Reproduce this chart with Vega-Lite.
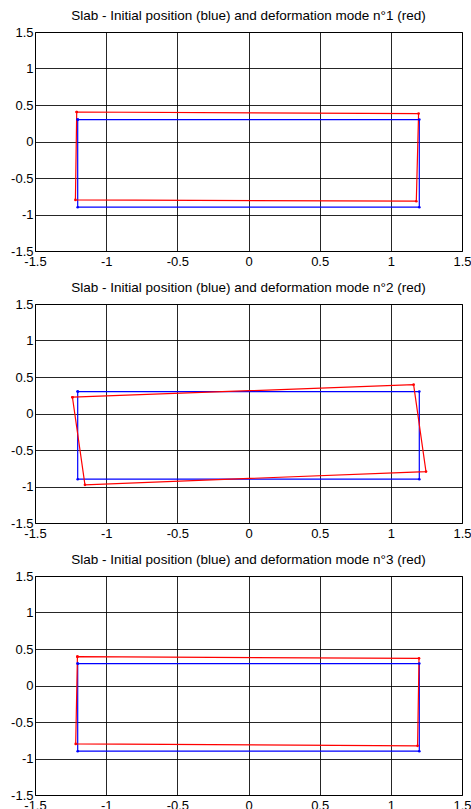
{
  "$schema": "https://vega.github.io/schema/vega-lite/v6.json",
  "background": "white",
  "padding": {"left": 10, "top": 8, "right": 0, "bottom": 0},
  "spacing": 53,
  "bounds": "flush",
  "config": {
    "font": "Liberation Sans",
    "view": {"stroke": "black", "strokeWidth": 1},
    "title": {"fontSize": 13.5, "fontWeight": "normal", "color": "black", "offset": 4, "font": "Liberation Sans"},
    "axis": {
      "grid": true, "gridColor": "black", "gridOpacity": 0.85, "gridWidth": 1,
      "domain": false, "ticks": false, "title": null,
      "labelFont": "Liberation Sans", "labelFontSize": 13, "labelColor": "black",
      "labelOverlap": false, "labelFlush": false, "labelBound": false
    }
  },
  "data": {"values": [
    {"m": 1, "s": "initial", "o": 1, "x": -1.2, "y": 0.3},
    {"m": 1, "s": "initial", "o": 2, "x": 1.2, "y": 0.3},
    {"m": 1, "s": "initial", "o": 3, "x": 1.2, "y": -0.9},
    {"m": 1, "s": "initial", "o": 4, "x": -1.2, "y": -0.9},
    {"m": 1, "s": "initial", "o": 5, "x": -1.2, "y": 0.3},
    {"m": 1, "s": "mode", "o": 1, "x": -1.207, "y": 0.404},
    {"m": 1, "s": "mode", "o": 2, "x": 1.195, "y": 0.382},
    {"m": 1, "s": "mode", "o": 3, "x": 1.179, "y": -0.818},
    {"m": 1, "s": "mode", "o": 4, "x": -1.216, "y": -0.8},
    {"m": 1, "s": "mode", "o": 5, "x": -1.207, "y": 0.404},
    {"m": 2, "s": "initial", "o": 1, "x": -1.2, "y": 0.3},
    {"m": 2, "s": "initial", "o": 2, "x": 1.2, "y": 0.3},
    {"m": 2, "s": "initial", "o": 3, "x": 1.2, "y": -0.9},
    {"m": 2, "s": "initial", "o": 4, "x": -1.2, "y": -0.9},
    {"m": 2, "s": "initial", "o": 5, "x": -1.2, "y": 0.3},
    {"m": 2, "s": "mode", "o": 1, "x": -1.237, "y": 0.223},
    {"m": 2, "s": "mode", "o": 2, "x": 1.16, "y": 0.395},
    {"m": 2, "s": "mode", "o": 3, "x": 1.247, "y": -0.796},
    {"m": 2, "s": "mode", "o": 4, "x": -1.149, "y": -0.977},
    {"m": 2, "s": "mode", "o": 5, "x": -1.237, "y": 0.223},
    {"m": 3, "s": "initial", "o": 1, "x": -1.2, "y": 0.3},
    {"m": 3, "s": "initial", "o": 2, "x": 1.2, "y": 0.3},
    {"m": 3, "s": "initial", "o": 3, "x": 1.2, "y": -0.9},
    {"m": 3, "s": "initial", "o": 4, "x": -1.2, "y": -0.9},
    {"m": 3, "s": "initial", "o": 5, "x": -1.2, "y": 0.3},
    {"m": 3, "s": "mode", "o": 1, "x": -1.202, "y": 0.395},
    {"m": 3, "s": "mode", "o": 2, "x": 1.198, "y": 0.372},
    {"m": 3, "s": "mode", "o": 3, "x": 1.188, "y": -0.827},
    {"m": 3, "s": "mode", "o": 4, "x": -1.214, "y": -0.8},
    {"m": 3, "s": "mode", "o": 5, "x": -1.202, "y": 0.395}
  ]},
  "vconcat": [
    {
      "title": "Slab - Initial position (blue) and deformation mode n°1 (red)",
      "width": 427, "height": 219,
      "transform": [{"filter": "datum.m == 1"}],
      "encoding": {
        "x": {"field": "x", "type": "quantitative", "scale": {"domain": [-1.5, 1.5], "nice": false, "zero": false}, "axis": {"values": [-1.5, -1, -0.5, 0, 0.5, 1, 1.5], "labelExpr": "'' + datum.value", "labelPadding": 4}},
        "y": {"field": "y", "type": "quantitative", "scale": {"domain": [-1.5, 1.5], "nice": false, "zero": false}, "axis": {"values": [-1.5, -1, -0.5, 0, 0.5, 1, 1.5], "labelExpr": "'' + datum.value", "labelPadding": 2}},
        "color": {"field": "s", "type": "nominal", "scale": {"domain": ["initial", "mode"], "range": ["#0000ff", "#ff0000"]}, "legend": null}
      },
      "layer": [
        {"mark": {"type": "line", "strokeWidth": 1.2}, "encoding": {"order": {"field": "o", "type": "quantitative"}, "detail": {"field": "s"}}},
        {"mark": {"type": "point", "filled": true, "size": 7, "opacity": 1}, "encoding": {}}
      ]
    },
    {
      "title": "Slab - Initial position (blue) and deformation mode n°2 (red)",
      "width": 427, "height": 219,
      "transform": [{"filter": "datum.m == 2"}],
      "encoding": {
        "x": {"field": "x", "type": "quantitative", "scale": {"domain": [-1.5, 1.5], "nice": false, "zero": false}, "axis": {"values": [-1.5, -1, -0.5, 0, 0.5, 1, 1.5], "labelExpr": "'' + datum.value", "labelPadding": 4}},
        "y": {"field": "y", "type": "quantitative", "scale": {"domain": [-1.5, 1.5], "nice": false, "zero": false}, "axis": {"values": [-1.5, -1, -0.5, 0, 0.5, 1, 1.5], "labelExpr": "'' + datum.value", "labelPadding": 2}},
        "color": {"field": "s", "type": "nominal", "scale": {"domain": ["initial", "mode"], "range": ["#0000ff", "#ff0000"]}, "legend": null}
      },
      "layer": [
        {"mark": {"type": "line", "strokeWidth": 1.2}, "encoding": {"order": {"field": "o", "type": "quantitative"}, "detail": {"field": "s"}}},
        {"mark": {"type": "point", "filled": true, "size": 7, "opacity": 1}, "encoding": {}}
      ]
    },
    {
      "title": "Slab - Initial position (blue) and deformation mode n°3 (red)",
      "width": 427, "height": 219,
      "transform": [{"filter": "datum.m == 3"}],
      "encoding": {
        "x": {"field": "x", "type": "quantitative", "scale": {"domain": [-1.5, 1.5], "nice": false, "zero": false}, "axis": {"values": [-1.5, -1, -0.5, 0, 0.5, 1, 1.5], "labelExpr": "'' + datum.value", "labelPadding": 4}},
        "y": {"field": "y", "type": "quantitative", "scale": {"domain": [-1.5, 1.5], "nice": false, "zero": false}, "axis": {"values": [-1.5, -1, -0.5, 0, 0.5, 1, 1.5], "labelExpr": "'' + datum.value", "labelPadding": 2}},
        "color": {"field": "s", "type": "nominal", "scale": {"domain": ["initial", "mode"], "range": ["#0000ff", "#ff0000"]}, "legend": null}
      },
      "layer": [
        {"mark": {"type": "line", "strokeWidth": 1.2}, "encoding": {"order": {"field": "o", "type": "quantitative"}, "detail": {"field": "s"}}},
        {"mark": {"type": "point", "filled": true, "size": 7, "opacity": 1}, "encoding": {}}
      ]
    }
  ]
}
